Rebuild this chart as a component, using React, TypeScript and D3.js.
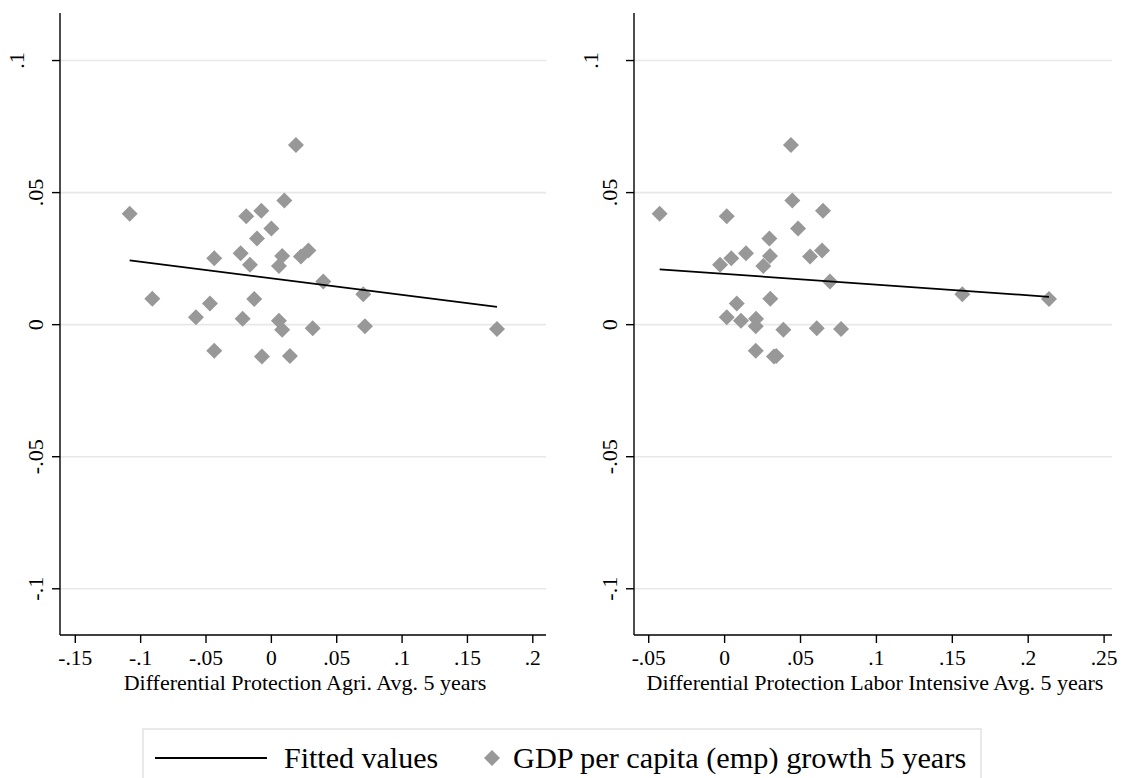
import React from "react";
import * as d3 from "d3";

/* GDP per capita (emp) growth 5 years — shared y for both panels */
const growth = [
  0.068, 0.047, 0.0431, 0.042, 0.041, 0.0364, 0.0326, 0.0281, 0.027, 0.026,
  0.0258, 0.0251, 0.0227, 0.0222, 0.0163, 0.0115, 0.0098, 0.0097, 0.008, 0.0028,
  0.0022, 0.0015, -0.0006, -0.0014, -0.0016, -0.0019, -0.0099, -0.0121, -0.0119,
];

/* Differential Protection Agri. Avg. 5 years */
const protAgri = [
  0.0188, 0.0099, -0.0077, -0.1084, -0.0192, 0.0, -0.011, 0.0283, -0.0235, 0.0083,
  0.0226, -0.0437, -0.0164, 0.0058, 0.0397, 0.0703, -0.0911, -0.0131, -0.047, -0.0577,
  -0.022, 0.0058, 0.0716, 0.0316, 0.1726, 0.0083, -0.0437, -0.0072, 0.0142,
];

/* Differential Protection Labor Intensive Avg. 5 years */
const protLabor = [
  0.0437, 0.0446, 0.0648, -0.0428, 0.0014, 0.0484, 0.0295, 0.0642, 0.0141, 0.0299,
  0.0563, 0.0044, -0.003, 0.0255, 0.0694, 0.1566, 0.0301, 0.2137, 0.008, 0.0014,
  0.0207, 0.0108, 0.0205, 0.0607, 0.0767, 0.0387, 0.0205, 0.0325, 0.034,
];

const yTicks = [0.1, 0.05, 0, -0.05, -0.1];
const yTickLabels = [".1", ".05", "0", "-.05", "-.1"];
const xTicksAgri = [-0.15, -0.1, -0.05, 0, 0.05, 0.1, 0.15, 0.2];
const xTickLabelsAgri = ["-.15", "-.1", "-.05", "0", ".05", ".1", ".15", ".2"];
const xTicksLabor = [-0.05, 0, 0.05, 0.1, 0.15, 0.2, 0.25];
const xTickLabelsLabor = ["-.05", "0", ".05", ".1", ".15", ".2", ".25"];

const FONT = "'Liberation Serif', 'Times New Roman', serif";
const MARKER = "#989898";
const GRID = "#e8e8e8";

function ols(xs: number[], ys: number[]) {
  const mx = d3.mean(xs)!;
  const my = d3.mean(ys)!;
  let sxy = 0;
  let sxx = 0;
  xs.forEach((x, i) => {
    sxy += (x - mx) * (ys[i] - my);
    sxx += (x - mx) * (x - mx);
  });
  const b = sxy / sxx;
  return { a: my - b * mx, b };
}

const diamond = (cx: number, cy: number, r: number) =>
  `M${cx},${cy - r}L${cx + r},${cy}L${cx},${cy + r}L${cx - r},${cy}Z`;

type PanelProps = {
  left: number;
  right: number;
  xDomain: [number, number];
  xs: number[];
  xTicks: number[];
  xTickLabels: string[];
  title: string;
};

function Panel({ left, right, xDomain, xs, xTicks, xTickLabels, title }: PanelProps) {
  const top = 13;
  const bottom = 635;
  const x = d3.scaleLinear().domain(xDomain).range([left, right]);
  const y = d3.scaleLinear().domain([-0.1175, 0.118]).range([bottom, top]);

  const fit = ols(xs, growth);
  const [x0, x1] = d3.extent(xs) as [number, number];
  const line = d3
    .line<number>()
    .x((d) => x(d))
    .y((d) => y(fit.a + fit.b * d));

  return (
    <g>
      {/* grid */}
      {yTicks.map((t) => (
        <line key={"g" + t} x1={left} x2={right} y1={y(t)} y2={y(t)} stroke={GRID} strokeWidth={1.6} />
      ))}

      {/* markers */}
      {xs.map((v, i) => (
        <path key={i} d={diamond(x(v), y(growth[i]), 8)} fill={MARKER} />
      ))}

      {/* fitted line */}
      <path d={line([x0, x1])!} fill="none" stroke="#000" strokeWidth={1.8} />

      {/* y axis */}
      <line x1={left} x2={left} y1={top} y2={bottom} stroke="#000" strokeWidth={1.4} />
      {yTicks.map((t, i) => (
        <g key={"y" + t}>
          <line x1={left - 8} x2={left} y1={y(t)} y2={y(t)} stroke="#000" strokeWidth={1.4} />
          <text
            // the top label sits further out in the original
            transform={`translate(${left - (i === 0 ? 36 : 17)},${y(t)}) rotate(-90)`}
            textAnchor="middle"
            fontFamily={FONT}
            fontSize={22}
          >
            {yTickLabels[i]}
          </text>
        </g>
      ))}

      {/* x axis */}
      <line x1={left} x2={right} y1={bottom} y2={bottom} stroke="#000" strokeWidth={1.4} />
      {xTicks.map((t, i) => (
        <g key={"x" + t}>
          <line x1={x(t)} x2={x(t)} y1={bottom} y2={bottom + 8} stroke="#000" strokeWidth={1.4} />
          <text x={x(t)} y={bottom + 30} textAnchor="middle" fontFamily={FONT} fontSize={21.5}>
            {xTickLabels[i]}
          </text>
        </g>
      ))}
      <text x={(left + right) / 2 + 2} y={bottom + 55} textAnchor="middle" fontFamily={FONT} fontSize={22}>
        {title}
      </text>
    </g>
  );
}

export default function App() {
  return (
    <svg
      width={1123}
      height={778}
      style={{ position: "absolute", left: 0, top: 0, background: "#fff" }}
    >
      <rect width={1123} height={778} fill="#fff" />
      <Panel
        left={60}
        right={546}
        xDomain={[-0.1617, 0.2101]}
        xs={protAgri}
        xTicks={xTicksAgri}
        xTickLabels={xTickLabelsAgri}
        title="Differential Protection Agri. Avg. 5 years"
      />
      <Panel
        left={634}
        right={1112}
        xDomain={[-0.0597, 0.2552]}
        xs={protLabor}
        xTicks={xTicksLabor}
        xTickLabels={xTickLabelsLabor}
        title="Differential Protection Labor Intensive Avg. 5 years"
      />

      {/* legend */}
      <rect x={143} y={729} width={838} height={60} fill="#fff" stroke="#e2e2e2" strokeWidth={1.5} />
      <line x1={155} x2={267} y1={758} y2={758} stroke="#000" strokeWidth={1.8} />
      <text x={284} y={768} fontFamily={FONT} fontSize={30}>
        Fitted values
      </text>
      <path d={diamond(492, 758, 8)} fill={MARKER} />
      <text x={513} y={768} fontFamily={FONT} fontSize={30.3}>
        GDP per capita (emp) growth 5 years
      </text>
    </svg>
  );
}
